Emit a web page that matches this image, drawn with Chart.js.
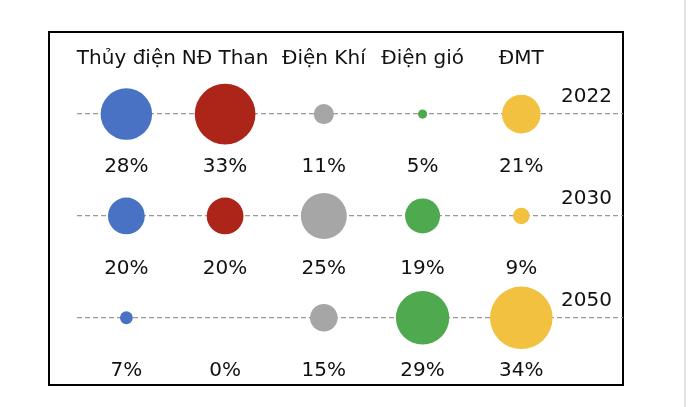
<!DOCTYPE html>
<html>
<head>
<meta charset="utf-8">
<script src="https://cdn.jsdelivr.net/npm/chart.js@4"></script>
<style>
body { margin: 0; background: #fff; }
#khung { position: absolute; left: 48px; top: 31px; width: 576px; height: 355px; border: 2px solid #000; box-sizing: border-box; }
#vach { position: absolute; left: 684px; top: 0; width: 2px; height: 407px; background: #e4e4e4; }
#bieudo { position: absolute; left: 0; top: 0; }
</style>
</head>
<body>
<div id="khung"></div>
<div id="vach"></div>
<canvas id="bieudo" width="690" height="407"></canvas>
<script>
// du lieu
var nguon = ['Thủy điện', 'NĐ Than', 'Điện Khí', 'Điện gió', 'ĐMT'];
var nam = ['2022', '2030', '2050'];
var tyLe2022 = [28, 33, 11, 5, 21];
var tyLe2030 = [20, 20, 25, 19, 9];
var tyLe2050 = [7, 0, 15, 29, 34];
var mau = ['#4a72c4', '#ad2419', '#a6a6a6', '#4ea94f', '#f3c140'];

var tyLe = [tyLe2022, tyLe2030, tyLe2050];

// moi nguon la 1 dataset, hang tren cung = 2022
var datasets = nguon.map(function (ten, i) {
  return {
    label: ten,
    backgroundColor: mau[i],
    borderColor: mau[i],
    borderWidth: 0,
    data: nam.map(function (n, j) {
      return { x: i, y: nam.length - 1 - j, r: tyLe[j][i] * 0.92, pct: tyLe[j][i] };
    })
  };
});

// ghi % duoi moi bong
var nhanPhanTram = {
  id: 'nhanPhanTram',
  afterDatasetsDraw: function (chart) {
    var ctx = chart.ctx;
    var sx = chart.scales.x, sy = chart.scales.y;
    ctx.save();
    ctx.font = '20px "DejaVu Sans"';
    ctx.fillStyle = '#111';
    ctx.textAlign = 'center';
    ctx.textBaseline = 'middle';
    chart.data.datasets.forEach(function (ds) {
      ds.data.forEach(function (p) {
        ctx.fillText(p.pct + '%', sx.getPixelForValue(p.x), sy.getPixelForValue(p.y - 0.52));
      });
    });
    ctx.restore();
  }
};

new Chart(document.getElementById('bieudo'), {
  type: 'bubble',
  data: { datasets: datasets },
  plugins: [nhanPhanTram],
  options: {
    responsive: false,
    animation: false,
    devicePixelRatio: 1,
    layout: { autoPadding: false, padding: { left: 77, right: 67, top: 37, bottom: 23 } },
    plugins: { legend: { display: false }, tooltip: { enabled: false } },
    scales: {
      x: {
        type: 'linear',
        position: 'top',
        min: -0.5,
        max: 5.03,
        afterBuildTicks: function (s) { s.ticks = nguon.map(function (t, i) { return { value: i }; }); },
        grid: { display: false, drawTicks: false },
        border: { display: false },
        ticks: {
          padding: 10,
          color: '#111',
          font: { family: 'DejaVu Sans', size: 20 },
          callback: function (v) { return nguon[v]; }
        }
      },
      y: {
        type: 'linear',
        position: 'right',
        min: -0.65,
        max: 2.325,
        afterBuildTicks: function (s) { s.ticks = nam.map(function (t, i) { return { value: i }; }); },
        afterFit: function (s) { s.width = 0; s.paddingTop = 0; s.paddingBottom = 0; },
        grid: { color: '#999', lineWidth: 1.3, drawTicks: false },
        border: { display: false, dash: [5, 3] },
        ticks: {
          mirror: true,
          padding: -11,
          labelOffset: -17,
          color: '#111',
          font: { family: 'DejaVu Sans', size: 20 },
          callback: function (v) { return nam[nam.length - 1 - v]; }
        }
      }
    }
  }
});
</script>
</body>
</html>
